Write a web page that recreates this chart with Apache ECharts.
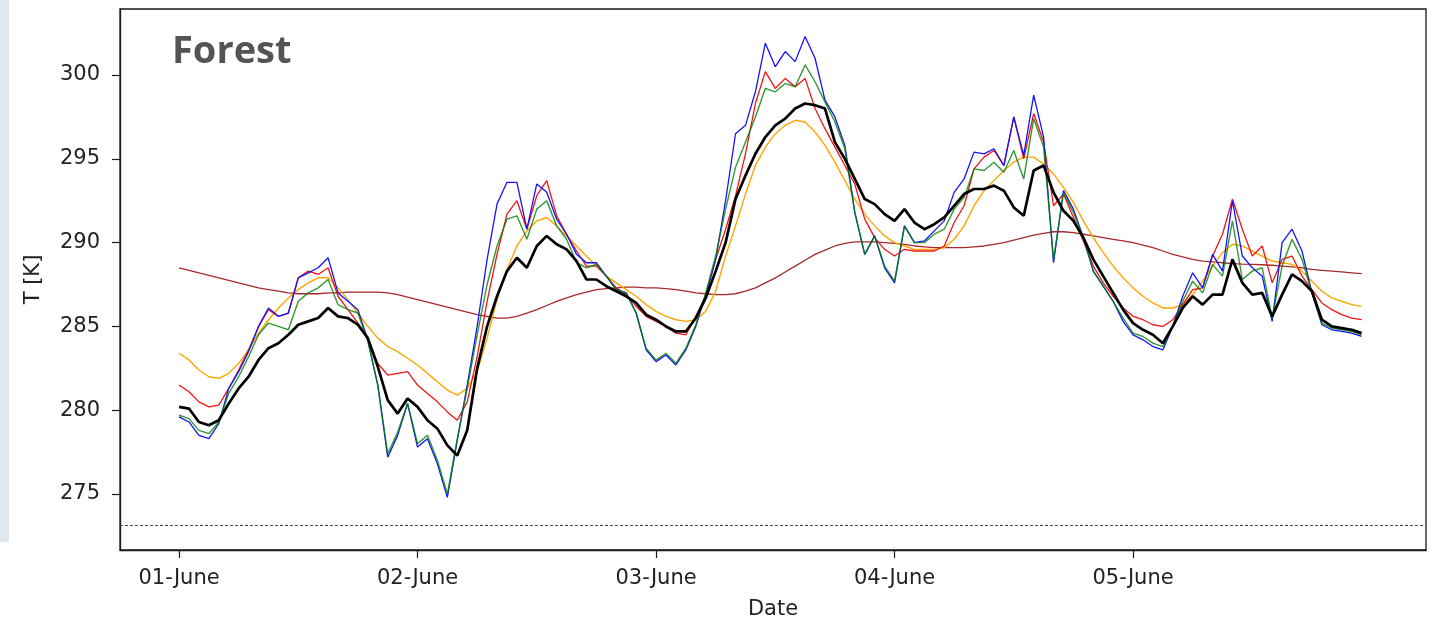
<!DOCTYPE html>
<html>
<head>
<meta charset="utf-8">
<script src="https://cdn.jsdelivr.net/npm/echarts@6/dist/echarts.min.js"></script>
<style>
  html, body { margin: 0; padding: 0; background: #ffffff; }
  #chart { width: 1432px; height: 621px; }
</style>
</head>
<body>
<div id="chart"></div>
<script>
// Hours since 01-June 00:00
const hours = [
  0,1,2,3,4,5,6,7,8,9,10,11,12,13,14,15,16,17,18,19,
  20,21,22,23,24,25,26,27,28,29,30,31,32,33,34,35,36,37,38,39,
  40,41,42,43,44,45,46,47,48,49,50,51,52,53,54,55,56,57,58,59,
  60,61,62,63,64,65,66,67,68,69,70,71,72,73,74,75,76,77,78,79,
  80,81,82,83,84,85,86,87,88,89,90,91,92,93,94,95,96,97,98,99,
  100,101,102,103,104,105,106,107,108,109,110,111,112,113,114,115,116,117,118,119
];

// Day ticks on the time axis
const dayTickHours = [0, 24, 48, 72, 96];
const dayTickLabels = ['01-June', '02-June', '03-June', '04-June', '05-June'];

// Temperature ticks
const tempTicks = [275, 280, 285, 290, 295, 300];
const freezingPoint = 273.15;

// Temperature series [K]
const blueT = [
  279.6,279.3,278.5,278.3,279.2,281.3,282.3,283.5,285.0,286.1,
  285.6,285.8,287.9,288.2,288.5,289.1,287.0,286.5,286.0,284.2,
  281.5,277.2,278.5,280.4,277.8,278.3,276.8,274.8,278.2,281.5,
  285.0,289.0,292.3,293.6,293.6,290.8,293.5,293.0,291.4,290.5,
  289.3,288.8,288.8,288.0,287.2,287.0,285.8,283.6,282.9,283.3,
  282.7,283.6,285.0,286.9,289.0,292.5,296.5,297.0,299.0,301.9,
  300.5,301.4,300.8,302.3,301.0,298.5,297.5,295.8,291.8,289.3,
  290.4,288.5,287.6,291.0,290.0,290.1,290.7,291.3,293.0,293.8,
  295.4,295.3,295.6,294.6,297.5,295.2,298.8,296.3,288.8,293.1,
  292.0,290.3,288.3,287.4,286.5,285.3,284.5,284.2,283.8,283.6,
  285.0,286.8,288.2,287.3,289.3,288.3,292.5,289.2,288.5,288.0,
  285.3,290.0,290.8,289.5,287.0,285.1,284.8,284.7,284.6,284.4
];

const redT = [
  281.5,281.1,280.5,280.2,280.3,281.3,282.4,283.6,285.0,286.0,
  285.6,285.8,287.9,288.3,288.1,288.5,286.8,286.0,285.2,284.3,
  282.8,282.1,282.2,282.3,281.5,281.0,280.5,279.9,279.4,280.5,
  283.2,286.5,289.3,291.7,292.5,290.8,292.8,293.7,291.6,290.5,
  289.5,288.6,288.6,288.0,287.3,286.9,286.2,285.6,285.3,285.0,
  284.6,284.5,285.6,286.8,289.0,290.8,292.8,295.3,298.3,300.2,
  299.2,299.8,299.3,299.8,298.0,296.8,295.7,294.6,293.5,291.4,
  290.3,289.6,289.2,289.6,289.5,289.5,289.5,289.8,291.2,292.2,
  294.4,295.1,295.5,294.6,297.5,295.0,297.7,296.0,292.2,292.9,
  291.5,290.1,288.6,287.6,286.8,286.1,285.6,285.4,285.1,285.0,
  285.4,286.3,287.2,287.3,289.2,290.5,292.6,290.8,289.2,289.8,
  287.6,289.0,289.2,288.0,287.2,286.4,286.0,285.7,285.5,285.4
];

const greenT = [
  279.7,279.5,278.8,278.6,279.3,281.0,282.0,283.2,284.5,285.2,
  285.0,284.8,286.5,287.0,287.3,287.8,286.3,286.0,285.8,284.1,
  281.5,277.4,278.7,280.4,278.0,278.5,277.0,275.0,278.3,281.3,
  284.5,287.5,289.8,291.4,291.6,290.2,292.0,292.5,291.0,290.2,
  288.8,288.5,288.7,288.0,287.2,287.0,285.8,283.7,283.0,283.4,
  282.8,283.7,285.1,287.0,289.2,292.0,294.5,296.0,297.5,299.2,
  299.0,299.5,299.3,300.6,299.6,298.4,297.2,295.6,291.8,289.3,
  290.4,288.6,287.7,291.0,290.0,290.0,290.5,290.8,292.0,292.7,
  294.4,294.3,294.8,294.2,295.5,293.8,297.4,295.7,289.0,293.0,
  291.8,290.3,288.3,287.4,286.5,285.5,284.6,284.4,284.0,283.8,
  285.0,286.5,287.7,287.0,288.7,288.0,291.3,287.8,288.3,288.5,
  285.5,288.6,290.2,289.0,287.0,285.2,284.9,284.8,284.7,284.5
];

const orangeT = [
  283.4,283.0,282.4,282.0,281.9,282.2,282.8,283.6,284.6,285.4,
  286.1,286.7,287.2,287.6,287.9,287.9,287.3,286.6,285.8,285.0,
  284.3,283.8,283.5,283.1,282.7,282.2,281.7,281.2,280.9,281.3,
  282.3,284.3,286.6,288.4,289.8,290.7,291.3,291.5,291.0,290.4,
  289.8,289.2,288.6,288.0,287.6,287.2,286.8,286.3,285.9,285.6,
  285.4,285.3,285.4,285.9,287.1,289.2,291.0,292.9,294.6,295.7,
  296.5,297.0,297.3,297.2,296.6,295.8,294.8,293.7,292.6,291.7,
  291.0,290.4,290.0,289.8,289.6,289.6,289.6,289.7,290.2,291.0,
  292.2,293.1,293.7,294.3,294.8,295.1,295.1,294.7,294.1,293.3,
  292.4,291.3,290.3,289.4,288.6,287.9,287.3,286.8,286.4,286.1,
  286.1,286.3,286.9,287.7,288.6,289.4,289.9,289.8,289.5,289.2,
  288.9,288.8,288.7,288.3,287.7,287.1,286.7,286.5,286.3,286.2
];

const blackT = [
  280.2,280.1,279.3,279.1,279.4,280.4,281.3,282.0,283.0,283.7,
  284.0,284.5,285.1,285.3,285.5,286.1,285.6,285.5,285.1,284.3,
  282.6,280.6,279.8,280.7,280.2,279.4,278.9,277.9,277.3,278.8,
  282.5,285.0,286.8,288.3,289.1,288.5,289.8,290.4,289.9,289.6,
  288.9,287.8,287.8,287.4,287.1,286.8,286.4,285.7,285.4,285.0,
  284.7,284.7,285.5,286.7,288.3,290.0,292.6,294.0,295.3,296.3,
  297.0,297.4,298.0,298.3,298.2,298.0,296.0,295.0,293.8,292.6,
  292.3,291.7,291.3,292.0,291.2,290.8,291.1,291.5,292.2,292.9,
  293.2,293.2,293.4,293.1,292.1,291.6,294.3,294.6,293.0,291.9,
  291.3,290.3,289.0,288.0,287.0,286.0,285.2,284.8,284.5,284.0,
  285.0,286.1,286.8,286.3,286.9,286.9,289.0,287.6,286.9,287.0,
  285.6,286.9,288.1,287.7,287.1,285.4,285.0,284.9,284.8,284.6
];

const brownT = [
  288.5,288.35,288.2,288.05,287.9,287.75,287.6,287.45,287.3,287.2,
  287.1,287.0,286.95,286.95,286.95,287.0,287.0,287.05,287.05,287.05,
  287.05,287.0,286.9,286.75,286.6,286.45,286.3,286.15,286.0,285.85,
  285.7,285.6,285.5,285.5,285.6,285.8,286.0,286.25,286.5,286.7,
  286.9,287.05,287.2,287.25,287.3,287.35,287.35,287.3,287.3,287.25,
  287.2,287.1,287.0,286.95,286.9,286.9,286.95,287.1,287.3,287.6,
  287.9,288.25,288.6,288.95,289.3,289.55,289.8,289.95,290.05,290.05,
  290.05,290.0,289.95,289.9,289.8,289.75,289.7,289.7,289.7,289.7,
  289.75,289.8,289.9,290.0,290.15,290.3,290.45,290.55,290.65,290.65,
  290.6,290.5,290.4,290.3,290.2,290.1,290.0,289.85,289.7,289.5,
  289.3,289.15,289.0,288.9,288.85,288.8,288.75,288.72,288.7,288.68,
  288.65,288.6,288.55,288.5,288.4,288.35,288.3,288.25,288.2,288.15
];

const pair = (vals) => hours.map((h, i) => [h, vals[i]]);

const tickFont = { fontFamily: 'DejaVu Sans', fontSize: 21, color: '#222' };
const frameColor = '#1a1a1a';

function line(name, vals, color, width, extra) {
  return Object.assign({
    name: name,
    type: 'line',
    data: pair(vals),
    showSymbol: false,
    symbol: 'none',
    silent: true,
    lineStyle: { color: color, width: width },
    z: 2
  }, extra || {});
}

const chart = echarts.init(document.getElementById('chart'), null, { renderer: 'canvas' });

chart.setOption({
  animation: false,
  backgroundColor: '#ffffff',
  grid: {
    left: 120, right: 6, top: 9, bottom: 71,
    outerBoundsMode: 'none',
    containLabel: false,
    show: true, borderColor: frameColor, borderWidth: 1.3, backgroundColor: '#ffffff'
  },
  xAxis: {
    type: 'value',
    min: -5.94,
    max: 125.48,
    axisLine: { show: true, onZero: false, lineStyle: { color: frameColor, width: 1.3 } },
    splitLine: { show: false },
    axisTick: { show: true, customValues: dayTickHours, length: 8, lineStyle: { color: frameColor, width: 1.2 } },
    axisLabel: Object.assign({
      customValues: dayTickHours,
      margin: 18,
      formatter: (v) => dayTickLabels[dayTickHours.indexOf(v)] || ''
    }, tickFont),
    name: 'Date',
    nameLocation: 'middle',
    nameGap: 49,
    nameTextStyle: { fontFamily: 'DejaVu Sans', fontSize: 21, color: '#222' }
  },
  yAxis: {
    type: 'value',
    min: 271.66,
    max: 303.94,
    axisLine: { show: true, onZero: false, lineStyle: { color: frameColor, width: 1.3 } },
    splitLine: { show: false },
    axisTick: { show: true, customValues: tempTicks, length: 8, lineStyle: { color: frameColor, width: 1.2 } },
    axisLabel: Object.assign({
      customValues: tempTicks,
      margin: 20,
      formatter: (v) => String(v)
    }, tickFont),
    name: 'T [K]',
    nameLocation: 'middle',
    nameRotate: 90,
    nameGap: 76,
    nameTextStyle: { fontFamily: 'DejaVu Sans', fontSize: 21, color: '#222' }
  },
  graphic: [
    {
      type: 'rect',
      left: 0, top: 0,
      shape: { width: 9, height: 542 },
      style: { fill: '#dfe7ef' },
      silent: true
    },
    {
      type: 'text',
      left: 172, top: 33,
      style: {
        text: 'Forest',
        font: 'bold 38px "Open Sans"',
        fill: '#545454'
      },
      z: 10
    }
  ],
  series: [
    line('brown', brownT, '#a52a2a', 1.3, {
      markLine: {
        silent: true,
        symbol: 'none',
        label: { show: false },
        lineStyle: { color: '#333', type: [3, 2], width: 0.9 },
        data: [{ yAxis: freezingPoint }]
      }
    }),
    line('orange', orangeT, '#ffa500', 1.4),
    line('red', redT, '#f01414', 1.3),
    line('blue', blueT, '#1414ff', 1.3),
    line('green', greenT, '#008000', 1.3, { lineStyle: { color: '#008000', width: 1.4, opacity: 0.8 } }),
    line('black', blackT, '#000000', 2.7, { z: 3 })
  ]
});
</script>
</body>
</html>
